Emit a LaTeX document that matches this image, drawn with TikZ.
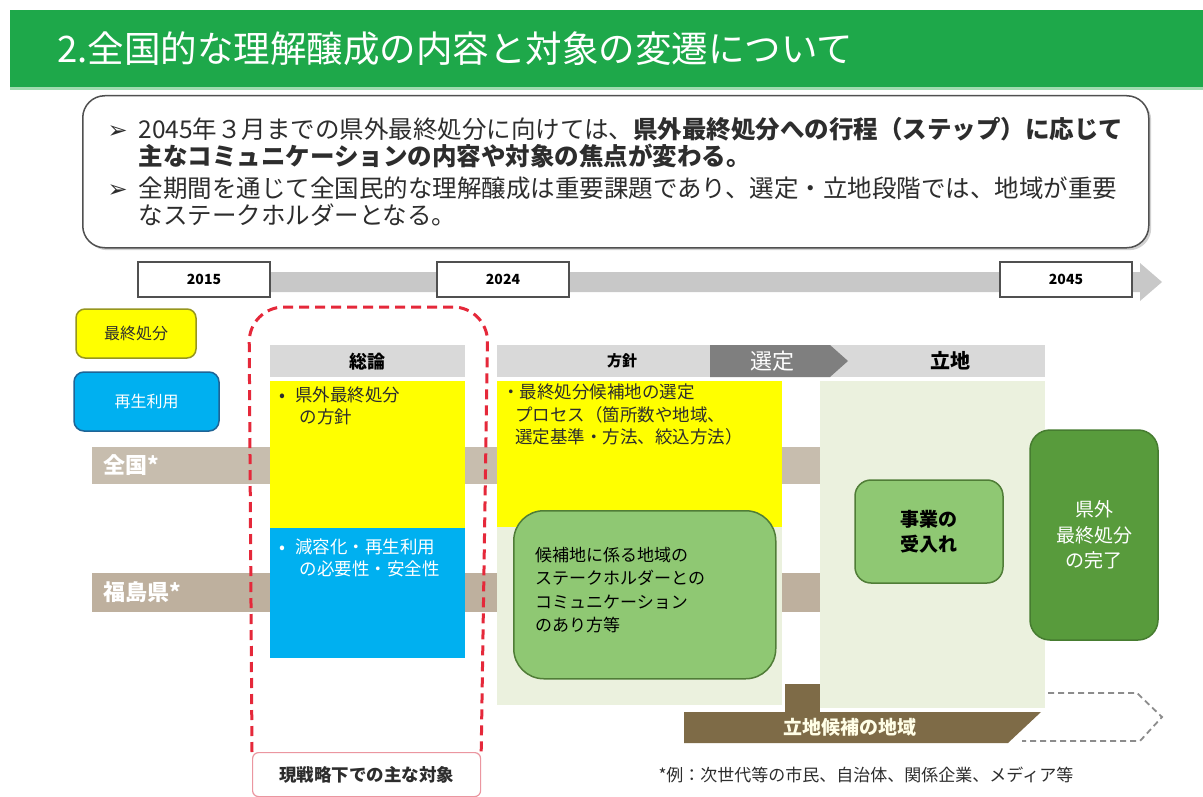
\documentclass[tikz,border=0pt]{standalone}
\usepackage{fontspec}
\setmainfont{Noto Sans CJK JP}
\newfontfamily\dejavu{DejaVu Sans}
\definecolor{hdrgreen}{RGB}{30,168,74}
\definecolor{hdrline}{RGB}{160,220,175}
\definecolor{boxborder}{RGB}{80,80,80}
\definecolor{tlgray}{RGB}{200,200,200}
\definecolor{yellowfill}{RGB}{255,255,0}
\definecolor{yellowborder}{RGB}{150,150,30}
\definecolor{bluefill}{RGB}{0,176,240}
\definecolor{blueborder}{RGB}{30,100,150}
\definecolor{bandA}{RGB}{199,189,174}
\definecolor{bandB}{RGB}{190,176,158}
\definecolor{lightgreen}{RGB}{235,241,222}
\definecolor{midgreen}{RGB}{143,200,115}
\definecolor{gborder}{RGB}{80,125,55}
\definecolor{darkgreen}{RGB}{88,155,60}
\definecolor{darkbrown}{RGB}{126,107,71}
\definecolor{hgray}{RGB}{217,217,217}
\definecolor{selgray}{RGB}{127,127,127}
\definecolor{reddash}{RGB}{229,40,58}
\definecolor{labelborder}{RGB}{235,150,160}
\definecolor{txtdark}{RGB}{45,45,45}
\tikzset{
  fs/.style={font=\fontsize{#1}{24}\selectfont},
  plainbox/.style={inner sep=0pt, anchor=north west},
  yearbox/.style={draw=boxborder, line width=1.2pt, fill=white, inner sep=0pt,
    minimum width=132pt, minimum height=35pt, font=\fontsize{14}{16}\selectfont\bfseries},
  hdrbox/.style={plainbox, fill=hgray, minimum height=32pt},
  msgline/.style={anchor=base west, font=\fontsize{24.5}{28}\selectfont, text=txtdark},
  msgarrow/.style={anchor=base west, font=\fontsize{24}{26}\selectfont\dejavu, text=txtdark},
  cell/.style={anchor=north west, align=left, font=\fontsize{17.5}{22.5}\selectfont},
  greenbox/.style={draw=gborder, line width=1.5pt, fill=midgreen, inner sep=0pt},
}
\begin{document}
\begin{tikzpicture}[x=1pt,y=-1pt]
\useasboundingbox (0,0) rectangle (1203,797);
\fill[white] (0,0) rectangle (1203,797);

% header
\node[plainbox, fill=hdrgreen, minimum width=1193pt, minimum height=78pt] (hdr) at (10,10) {};
\draw[hdrline, line width=2.5pt] (hdr.south west) -- (hdr.south east);
\node[anchor=west, text=white, font=\fontsize{36.5}{40}\selectfont] (title) at (54,49)
  {2.全国的な理解醸成の内容と対象の変遷について};

% message box
\node[plainbox, fill=black!18, rounded corners=22pt, minimum width=1066pt, minimum height=152pt] (msgshadow) at (85,98) {};
\node[plainbox, draw=boxborder, line width=1.5pt, fill=white, rounded corners=22pt, minimum width=1066pt, minimum height=152pt] (msg) at (82,95) {};
\node[msgarrow] (a1) at (104,139) {➢};
\node[msgline] (m1) at (135,139) {2045年３月までの県外最終処分に向けては、\textbf{県外最終処分への行程（ステップ）に応じて}};
\node[msgline] (m2) at (135,166) {\textbf{主なコミュニケーションの内容や対象の焦点が変わる。}};
\node[msgarrow] (a2) at (104,197) {➢};
\node[msgline] (m3) at (135,197) {全期間を通じて全国民的な理解醸成は重要課題であり、選定・立地段階では、地域が重要};
\node[msgline] (m4) at (135,224) {なステークホルダーとなる。};

% timeline
\fill[tlgray] (270,272) -- (1140,272) -- (1140,263) -- (1162,282) -- (1140,301) -- (1140,292) -- (270,292) -- cycle;
\node[yearbox] (y2015) at (204,279.5) {2015};
\node[yearbox] (y2024) at (503,279.5) {2024};
\node[yearbox] (y2045) at (1066,279.5) {2045};

% legend
\node[draw=yellowborder, line width=1.5pt, fill=yellowfill, rounded corners=9pt, inner sep=0pt,
  minimum width=120pt, minimum height=49pt, fs=16, text=txtdark] (legfinal) at (136,333.5) {最終処分};
\node[draw=blueborder, line width=1.5pt, fill=bluefill, rounded corners=10pt, inner sep=0pt,
  minimum width=145pt, minimum height=59pt, fs=16, text=white] (legreuse) at (146.5,401.5) {再生利用};

% brown bands
\node[plainbox, fill=bandA, minimum width=728pt, minimum height=37pt] (bandnat) at (92,447) {};
\node[anchor=west, text=white, font=\fontsize{22}{24}\selectfont\bfseries] (natlbl) at (100,465.5) {全国*};
\node[plainbox, fill=bandB, minimum width=728pt, minimum height=39pt] (bandfk) at (92,573) {};
\node[anchor=west, text=white, font=\fontsize{22}{24}\selectfont\bfseries] (fklbl) at (100,592.5) {福島県*};

% columns
\node[plainbox, fill=lightgreen, minimum width=285pt, minimum height=324pt] (colA) at (497,381) {};
\node[plainbox, fill=lightgreen, minimum width=225pt, minimum height=327pt] (colB) at (820,381) {};
\node[plainbox, fill=darkbrown, minimum width=35pt, minimum height=30pt] (stub) at (785,684) {};

% phase headers
\node[hdrbox, minimum width=195pt, font=\fontsize{18}{20}\selectfont\bfseries] (hsoron) at (270,345) {総論};
\node[hdrbox, minimum width=548pt] (hpolicy) at (497,345) {};
\node[font=\fontsize{15}{17}\selectfont\bfseries] (policylbl) at (622,361) {方針};
\fill[selgray] (710,345) -- (830,345) -- (848,361) -- (830,377) -- (710,377) -- cycle;
\node[text=white, font=\fontsize{22}{24}\selectfont] (sel) at (772,361) {選定};
\node[font=\fontsize{20}{22}\selectfont\bfseries] (site) at (950,361) {立地};

% general column
\node[plainbox, fill=yellowfill, minimum width=195pt, minimum height=147pt] (ysoron) at (270,381) {};
\node[plainbox, fill=bluefill, minimum width=195pt, minimum height=130pt] (bsoron) at (270,528) {};
\node[cell, text=txtdark] (ytxt) at (276,383) {•\hspace{10pt}県外最終処分\\\hspace{20pt}の方針};
\node[cell, text=white] (btxt) at (276,535) {•\hspace{10pt}減容化・再生利用\\\hspace{20pt}の必要性・安全性};

% policy column
\node[plainbox, fill=yellowfill, minimum width=285pt, minimum height=146pt] (ypolicy) at (497,381) {};
\node[cell, text=txtdark, inner sep=0pt] (ptxt) at (502,384) {・最終処分候補地の選定\\\hspace{13pt}プロセス（箇所数や地域、\\\hspace{13pt}選定基準・方法、絞込方法）};
\node[greenbox, plainbox, rounded corners=30pt, minimum width=262pt, minimum height=168pt] (gstake) at (513,510) {};
\node[cell, inner sep=0pt, font=\fontsize{17}{23.5}\selectfont] (gtxt) at (535,547) {候補地に係る地域の\\ステークホルダーとの\\コミュニケーション\\のあり方等};

% siting column
\node[greenbox, rounded corners=16pt, minimum width=148pt, minimum height=103pt, align=center,
  font=\fontsize{19}{25}\selectfont\bfseries] (accept) at (929,531.5) {事業の\\受入れ};
\node[draw=darkgreen!80!black, line width=1.5pt, fill=darkgreen, rounded corners=20pt, inner sep=0pt,
  minimum width=128pt, minimum height=210pt, align=center, text=white,
  font=\fontsize{19}{25.5}\selectfont] (done) at (1094,535) {県外\\最終処分\\の完了};

% candidate region band
\fill[darkbrown] (684,712) -- (1041,712) -- (1008,743) -- (684,743) -- cycle;
\node[text=white!90!yellow, font=\fontsize{19}{21}\selectfont\bfseries] (cand) at (850,727.5) {立地候補の地域};
\draw[black!45, line width=1.8pt, dash pattern=on 6pt off 4pt]
  (1048,693) -- (1137,693) -- (1162,717) -- (1140,741) -- (1022,741);

% red dashed enclosure
\node[plainbox, draw=labelborder, line width=1.2pt, fill=white, rounded corners=6pt,
  minimum width=228pt, minimum height=44pt, text=txtdark, font=\fontsize{17.5}{20}\selectfont\bfseries] (cur) at (252,752) {現戦略下での主な対象};
\draw[reddash, line width=3pt, dash pattern=on 10pt off 6pt, rounded corners=35pt]
  (cur.north west) -- (249,307) -- (488,307) -- (cur.north east);

% footnote
\node[anchor=west, text=txtdark, font=\fontsize{17}{19}\selectfont] (note) at (655,775) {*例：次世代等の市民、自治体、関係企業、メディア等};
\end{tikzpicture}
\end{document}
